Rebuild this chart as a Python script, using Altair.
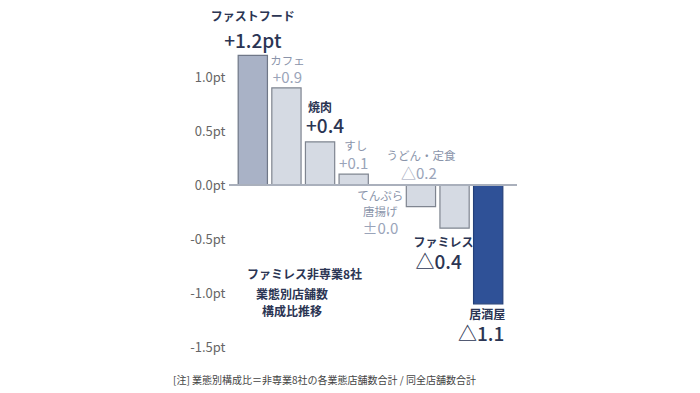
import altair as alt
import pandas as pd

categories = ["ファストフード", "カフェ", "焼肉", "すし", "てんぷら・唐揚げ", "うどん・定食", "ファミレス", "居酒屋"]
values = [1.2, 0.9, 0.4, 0.1, 0.0, -0.2, -0.4, -1.1]
name_labels = ["ファストフード", "カフェ", "焼肉", "すし", "てんぷら\n唐揚げ", "うどん・定食", "ファミレス", "居酒屋"]
value_labels = ["+1.2pt", "+0.9", "+0.4", "+0.1", "±0.0", "△0.2", "△0.4", "△1.1"]
emphasis = [True, False, True, False, False, False, True, True]
y_ticks = [1.0, 0.5, 0.0, -0.5, -1.0, -1.5]
title_lines = ["ファミレス非専業8社", "業態別店舗数", "構成比推移"]
note = "[注] 業態別構成比＝非専業8社の各業態店舗数合計 / 同全店舗数合計"

# layout (styling offsets, not data)
bar_fill = ["#a9b2c6", "#d5dae3", "#d5dae3", "#d5dae3", "#d5dae3", "#d5dae3", "#d5dae3", "#2f5197"]
bar_stroke = ["#6f7787", "#7f8590", "#7f8590", "#7f8590", "#7f8590", "#7f8590", "#7f8590", "#24407a"]
anchor_at_zero = [False, False, False, False, True, True, False, False]
name_dy = [-38, -26, -34, -27, 12, -28, 15, 11]
value_dy = [-13, -10, -15, -10, 44, -11, 35, 31]
name_dx = [0, 1, 0, 2, -7, 0, -11, -1]
value_dx = [0, 1, 5, 0, -7, -2, -16, -7]

FONT = "Noto Sans CJK JP"
DARK = "#2b3553"
LIGHT_NAME = "#8a94aa"
LIGHT_VAL = "#9aa4b9"

df = pd.DataFrame({
    "category": categories,
    "value": values,
    "name": name_labels,
    "vlabel": value_labels,
    "anchor": [0.0 if z else v for z, v in zip(anchor_at_zero, values)],
})

base = alt.Chart(df)
xenc = alt.X("category:N", sort=categories, axis=None,
             scale=alt.Scale(paddingInner=0.13, paddingOuter=0.065))
yscale = alt.Scale(domain=[-1.5, 1.25], nice=False, zero=False)

bars = base.mark_bar(strokeWidth=1.2).encode(
    x=xenc,
    y=alt.Y("value:Q", scale=yscale, title=None,
            axis=alt.Axis(values=y_ticks, domain=False, ticks=False, grid=False,
                          labelPadding=11, labelFontSize=13, labelColor="#666666",
                          labelFont=FONT,
                          labelExpr="(datum.value < 0 ? '-' : '') + format(abs(datum.value), '.1f') + 'pt'")),
    y2=alt.datum(0),
    color=alt.Color("category:N", scale=alt.Scale(domain=categories, range=bar_fill), legend=None),
    stroke=alt.Stroke("category:N", scale=alt.Scale(domain=categories, range=bar_stroke), legend=None),
)

zero_rule = base.mark_rule(color="#aab1bd", strokeWidth=1.5).encode(
    y=alt.datum(0), x=alt.value(-7), x2=alt.value(281)
)

layers = [bars, zero_rule]
for i, c in enumerate(categories):
    emph = emphasis[i]
    sub = base.transform_filter(alt.datum.category == c)
    nm = sub.mark_text(
        font=FONT, fontSize=12 if emph else 11.5, fontWeight="bold" if emph else "normal",
        color=DARK if emph else LIGHT_NAME, baseline="middle", align="center",
        dx=name_dx[i], dy=name_dy[i], lineBreak="\n", lineHeight=16,
    ).encode(x=xenc, y=alt.Y("anchor:Q", scale=yscale), text="name:N")
    vl = sub.mark_text(
        font=FONT, fontSize=19 if emph else 15, fontWeight=500 if emph else "normal",
        color=DARK if emph else LIGHT_VAL, baseline="middle", align="center",
        dx=value_dx[i], dy=value_dy[i],
    ).encode(x=xenc, y=alt.Y("anchor:Q", scale=yscale), text="vlabel:N")
    layers += [nm, vl]

title_x = [11, 20, 26]
title_y = [225, 245, 262]
for t, tx, ty in zip(title_lines, title_x, title_y):
    layers.append(
        alt.Chart(pd.DataFrame({"t": [t]})).mark_text(
            font=FONT, fontSize=12, fontWeight="bold", color=DARK, align="left", baseline="middle"
        ).encode(x=alt.value(tx), y=alt.value(ty), text="t:N")
    )

layers.append(
    alt.Chart(pd.DataFrame({"t": [note]})).mark_text(
        font=FONT, fontSize=10, color="#444444", align="left", baseline="middle"
    ).encode(x=alt.value(-63), y=alt.value(331), text="t:N")
)

chart = alt.layer(*layers).properties(
    width=269, height=297,
    autosize=alt.AutoSizeParams(type="none"),
    padding={"left": 228, "top": 42, "right": 187, "bottom": 46},
    background="white",
).configure_view(stroke=None)

chart.save("out.html", embed_options={"renderer": "svg", "actions": False})
